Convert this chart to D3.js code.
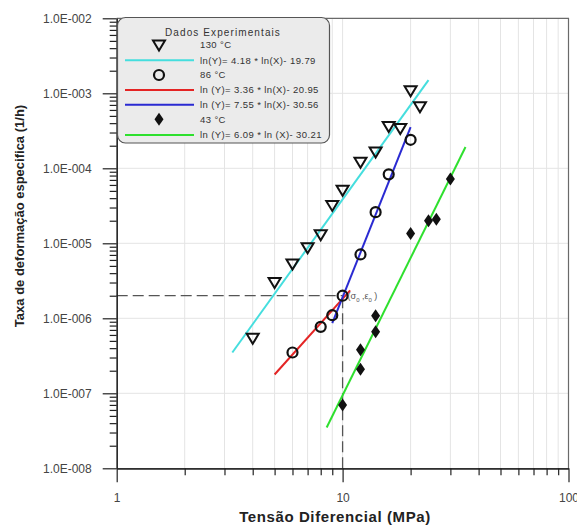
<!DOCTYPE html>
<html>
<head>
  <meta charset="utf-8">
  <title>Taxa de deformação x Tensão diferencial</title>
  <script src="https://d3js.org/d3.v7.min.js"></script>
  <style>
    body { margin: 0; background: #fff; }
    svg { font-family: "Liberation Sans", Arial, sans-serif; }
  </style>
</head>
<body>
  <div id="chart"></div>
  <script>
    // ensaios de fluencia
    var t130_x = [4, 5, 6, 7, 8, 9, 10, 12, 14, 16, 18, 20, 22];
    var t130_y = [5.4e-7, 3.0e-6, 5.3e-6, 8.7e-6, 1.3e-5, 3.2e-5, 5.1e-5, 1.2e-4, 1.65e-4, 3.6e-4, 3.4e-4, 1.08e-3, 6.6e-4];

    var t86_x = [6, 8, 9, 10, 12, 14, 16, 20];
    var t86_y = [3.5e-7, 7.7e-7, 1.1e-6, 2.0e-6, 7.1e-6, 2.6e-5, 8.3e-5, 2.4e-4];

    var t43_x = [10, 12, 12, 14, 14, 20, 24, 26, 30];
    var t43_y = [7.0e-8, 2.1e-7, 3.8e-7, 6.6e-7, 1.08e-6, 1.35e-5, 2.0e-5, 2.1e-5, 7.2e-5];

    // retas de ajuste (extremos)
    var fit130_x = [3.25, 24], fit130_y = [3.5e-7, 1.5e-3];
    var fit86a_x = [5, 10.8], fit86a_y = [1.78e-7, 2.36e-6];
    var fit86b_x = [9, 20], fit86b_y = [8.6e-7, 3.55e-4];
    var fit43_x = [8.5, 35], fit43_y = [3.5e-8, 1.92e-4];

    // ponto de referencia (sigma0, eps0)
    var ref_x = 10, ref_y = 2.0e-6;

    var legendTitle = "Dados Experimentais";
    var tempLabels = ["130 °C", "86 °C", "43 °C"];
    var fitLabels = ["ln(Y)= 4.18 * ln(X)- 19.79", "ln (Y)= 3.36 * ln(X)- 20.95",
                     "ln (Y)= 7.55 * ln(X)- 30.56", "ln (Y)= 6.09 * ln (X)- 30.21"];
    var fitColors = ["#45dede", "#e42424", "#2a2ad2", "#2ee02e"];

    var xTicks = [1, 10, 100];
    var yTicks = [1e-8, 1e-7, 1e-6, 1e-5, 1e-4, 1e-3, 1e-2];
    var xTitle = "Tensão Diferencial (MPa)";
    var yTitle = "Taxa de deformação especifica (1/h)";

    var W = 577, H = 527;
    var pLeft = 116.7, pRight = 568.5, pTop = 18.3, pBottom = 468.3;

    var svg = d3.select("#chart").append("svg")
      .attr("width", W).attr("height", H);

    var x = d3.scaleLog().domain([1, 100]).range([pLeft, pRight]);
    var y = d3.scaleLog().domain([1e-8, 1e-2]).range([pBottom, pTop]);

    // minor tick values
    var xMinor = [], yMinor = [];
    [1, 10].forEach(function(d) {
      for (var k = 2; k <= 9; k++) xMinor.push(d * k);
    });
    yTicks.slice(0, -1).forEach(function(d) {
      for (var k = 2; k <= 9; k++) yMinor.push(d * k);
    });

    // grid
    var grid = svg.append("g").attr("stroke", "#e4e4e4").attr("stroke-width", 1);
    grid.selectAll("line.v").data(xMinor.concat([10])).enter().append("line")
      .attr("x1", function(d) { return x(d); }).attr("x2", function(d) { return x(d); })
      .attr("y1", pTop).attr("y2", pBottom);
    grid.selectAll("line.h").data(yTicks.slice(1, -1)).enter().append("line")
      .attr("y1", function(d) { return y(d); }).attr("y2", function(d) { return y(d); })
      .attr("x1", pLeft).attr("x2", pRight);

    // frame top / right
    svg.append("path")
      .attr("d", "M" + pLeft + "," + pTop + "H" + pRight + "V" + pBottom)
      .attr("fill", "none").attr("stroke", "#6a6a6a").attr("stroke-width", 1.2);

    // dashed reference lines
    svg.append("path")
      .attr("d", "M" + x(1) + "," + y(ref_y) + "H" + x(ref_x))
      .attr("stroke", "#555").attr("stroke-width", 1.3).attr("stroke-dasharray", "11,5").attr("fill", "none");
    svg.append("path")
      .attr("d", "M" + x(ref_x) + "," + y(1e-8) + "V" + y(ref_y))
      .attr("stroke", "#555").attr("stroke-width", 1.3).attr("stroke-dasharray", "11,5").attr("fill", "none");

    // fit lines
    var line = d3.line().x(function(d) { return x(d[0]); }).y(function(d) { return y(d[1]); });
    var fits = [d3.zip(fit130_x, fit130_y), d3.zip(fit86a_x, fit86a_y),
                d3.zip(fit86b_x, fit86b_y), d3.zip(fit43_x, fit43_y)];
    svg.selectAll("path.fit").data(fits).enter().append("path")
      .attr("class", "fit")
      .attr("d", line)
      .attr("fill", "none")
      .attr("stroke", function(d, i) { return fitColors[i]; })
      .attr("stroke-width", 2);

    // marker shapes
    var triPath = "M-6,-4.5L6,-4.5L0,5.5Z";
    var diaPath = "M0,-6.5L4.5,0L0,6.5L-4.5,0Z";

    svg.selectAll("path.tri").data(d3.zip(t130_x, t130_y)).enter().append("path")
      .attr("d", triPath)
      .attr("transform", function(d) { return "translate(" + x(d[0]) + "," + y(d[1]) + ")"; })
      .attr("fill", "none").attr("stroke", "#111").attr("stroke-width", 2);

    svg.selectAll("circle.c86").data(d3.zip(t86_x, t86_y)).enter().append("circle")
      .attr("cx", function(d) { return x(d[0]); })
      .attr("cy", function(d) { return y(d[1]); })
      .attr("r", 5)
      .attr("fill", "none").attr("stroke", "#111").attr("stroke-width", 2.2);

    svg.selectAll("path.dia").data(d3.zip(t43_x, t43_y)).enter().append("path")
      .attr("d", diaPath)
      .attr("transform", function(d) { return "translate(" + x(d[0]) + "," + y(d[1]) + ")"; })
      .attr("fill", "#111");

    // (sigma0, eps0) label
    var lbl = svg.append("text")
      .attr("x", x(ref_x) + 5).attr("y", y(ref_y) + 3)
      .attr("font-size", 9).attr("fill", "#555");
    lbl.append("tspan").text("(σ");
    lbl.append("tspan").attr("font-size", 6).attr("dy", 3).text("0");
    lbl.append("tspan").attr("dy", -3).text(" ,ε");
    lbl.append("tspan").attr("font-size", 6).attr("dy", 3).text("0");
    lbl.append("tspan").attr("dy", -3).text(" )");

    // axes
    var yFmt = function(d) {
      var e = -Math.round(Math.log10(d));
      return "1.0E-" + String(e).padStart(3, "0");
    };

    svg.append("g").attr("transform", "translate(" + pLeft + ",0)")
      .call(d3.axisLeft(y).tickValues(yTicks).tickFormat(yFmt).tickSize(14).tickSizeOuter(0).tickPadding(11));
    svg.append("g").attr("transform", "translate(" + pLeft + ",0)")
      .call(d3.axisLeft(y).tickValues(yMinor).tickFormat("").tickSize(7).tickSizeOuter(0));

    svg.append("g").attr("transform", "translate(0," + pBottom + ")")
      .call(d3.axisBottom(x).tickValues(xTicks).tickFormat(d3.format("d")).tickSize(14).tickSizeOuter(0).tickPadding(11));
    svg.append("g").attr("transform", "translate(0," + pBottom + ")")
      .call(d3.axisBottom(x).tickValues(xMinor).tickFormat("").tickSize(7).tickSizeOuter(0));

    svg.selectAll(".domain, .tick line").attr("stroke", "#222").attr("stroke-width", 1.2);
    svg.selectAll(".tick text").attr("font-size", 12).attr("fill", "#444")
      .attr("font-family", "\"Liberation Sans\", Arial, sans-serif");

    // axis titles
    svg.append("text")
      .attr("x", 335).attr("y", 522)
      .attr("text-anchor", "middle")
      .attr("font-size", 15).attr("font-weight", "bold").attr("letter-spacing", 0.6).attr("fill", "#222")
      .text(xTitle);
    svg.append("text")
      .attr("transform", "translate(24,216) rotate(-90)")
      .attr("text-anchor", "middle")
      .attr("font-size", 13).attr("font-weight", "bold").attr("fill", "#222")
      .text(yTitle);

    // legend
    var lg = svg.append("g");
    lg.append("rect")
      .attr("x", 117.5).attr("y", 17.5).attr("width", 212).attr("height", 125.5)
      .attr("rx", 8).attr("ry", 8)
      .attr("fill", "#ebebeb").attr("stroke", "#555").attr("stroke-width", 1.2);
    lg.append("text")
      .attr("x", 223).attr("y", 35.5).attr("text-anchor", "middle")
      .attr("font-size", 10).attr("letter-spacing", 1.1).attr("fill", "#333")
      .text(legendTitle);

    var rowY = [45, 60.3, 75, 90, 104.7, 119.3, 135];
    var symX = 159, lineX1 = 125, lineX2 = 194, textX = 200;
    var rows = [
      { kind: "tri", label: tempLabels[0] },
      { kind: "line", color: fitColors[0], label: fitLabels[0] },
      { kind: "circle", label: tempLabels[1] },
      { kind: "line", color: fitColors[1], label: fitLabels[1] },
      { kind: "line", color: fitColors[2], label: fitLabels[2] },
      { kind: "dia", label: tempLabels[2] },
      { kind: "line", color: fitColors[3], label: fitLabels[3] }
    ];
    rows.forEach(function(r, i) {
      var cy = rowY[i];
      if (r.kind == "line") {
        lg.append("line").attr("x1", lineX1).attr("x2", lineX2).attr("y1", cy).attr("y2", cy)
          .attr("stroke", r.color).attr("stroke-width", 2);
      } else if (r.kind == "tri") {
        lg.append("path").attr("d", triPath).attr("transform", "translate(" + symX + "," + cy + ")")
          .attr("fill", "none").attr("stroke", "#111").attr("stroke-width", 2);
      } else if (r.kind == "circle") {
        lg.append("circle").attr("cx", symX).attr("cy", cy).attr("r", 5)
          .attr("fill", "none").attr("stroke", "#111").attr("stroke-width", 2.2);
      } else {
        lg.append("path").attr("d", diaPath).attr("transform", "translate(" + symX + "," + cy + ")")
          .attr("fill", "#111");
      }
      lg.append("text").attr("x", textX).attr("y", cy + 3.2)
        .attr("font-size", 9.5).attr("letter-spacing", 0.4).attr("fill", "#333")
        .text(r.label);
    });
  </script>
</body>
</html>
